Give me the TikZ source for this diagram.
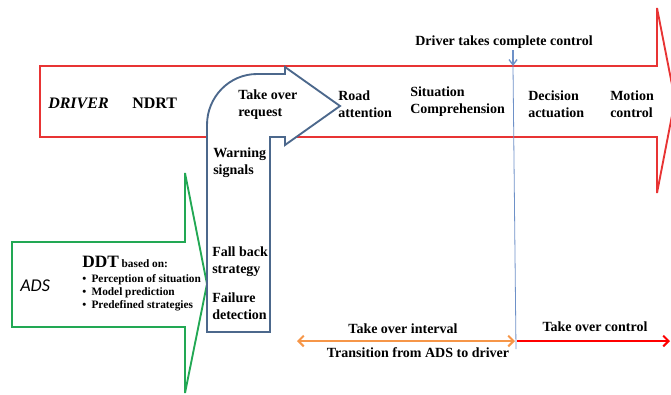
\documentclass[tikz,border=0pt]{standalone}
\usepackage{fontspec}
\setmainfont{Liberation Serif}
\newfontfamily\adsfont{Carlito}
\usetikzlibrary{arrows.meta, positioning}
\definecolor{drvred}{RGB}{232, 52, 52}
\definecolor{tkblue}{RGB}{76, 104, 140}
\definecolor{adsgreen}{RGB}{34, 168, 84}
\definecolor{ivorange}{RGB}{246, 150, 72}
\definecolor{ctrlblue}{RGB}{110, 145, 200}

\begin{document}
\begin{tikzpicture}[x=0.75pt, y=-0.75pt,
  stage/.style={anchor=west, inner sep=0pt, align=left, font=\bfseries\fontsize{10.5}{12.8}\selectfont},
  bigarrow/.style={line width=1.4pt, line join=miter},
  label/.style={inner sep=0pt, font=\bfseries\fontsize{10.5}{12}\selectfont}]
  \useasboundingbox (0,0) rectangle (671,394);

  % driver arrow
  \draw[bigarrow, drvred] (40,66) -- (657,66) -- (657,8) -- (675,100) -- (657,193) -- (657,137) -- (40,137) -- cycle;
  % ADS arrow
  \draw[bigarrow, adsgreen] (12,242) -- (185,242) -- (185,173) -- (207,284) -- (185,393) -- (185,327) -- (12,327) -- cycle;
  % take over U-turn arrow
  \draw[bigarrow, tkblue, fill=white] (207,332) -- (207,125) arc[start angle=180, end angle=270, x radius=50, y radius=51]
    -- (285,74) -- (285,67) -- (340,106) -- (285,145) -- (285,137) -- (270,137) -- (270,332) -- cycle;

  % texts in the driver arrow
  \node[stage, font=\bfseries\itshape\fontsize{12}{12}\selectfont] (driver) at (48,103) {DRIVER};
  \node[stage, font=\bfseries\fontsize{12}{12}\selectfont] (ndrt) at (132,103) {NDRT};
  \node[stage] (tor) at (238,105) {Take over\\request};
  \node[stage] (road) at (338,104) {Road\\attention};
  \node[stage] (sitcomp) at (410,102) {Situation\\Comprehension};
  \node[stage] (decision) at (528,104) {Decision\\actuation};
  \node[stage] (motion) at (610,104) {Motion\\control};

  % texts in the shaft
  \node[stage] (warn) at (213,163) {Warning\\signals};
  \node[stage] (fallback) at (212,262) {Fall back\\strategy};
  \node[stage] (failure) at (212,306) {Failure\\detection};

  % ADS
  \node[anchor=west, inner sep=0pt, font=\adsfont\itshape\fontsize{13.5}{14}\selectfont] (ads) at (20,286) {ADS};
  \node[anchor=north west, inner sep=0pt, align=left, font=\bfseries\fontsize{8.5}{10}\selectfont] (ddt) at (82,256)
    {{\fontsize{13}{13}\selectfont DDT} based on:\\[1pt]
     \textbullet\hspace{4pt}Perception of situation\\
     \textbullet\hspace{4pt}Model prediction\\
     \textbullet\hspace{4pt}Predefined strategies};

  % complete control marker
  \node[label] (dtc) at (504,42) {Driver takes complete control};
  \coordinate (ctrl-a) at (513,50);
  \coordinate (ctrl-b) at (513,66);
  \coordinate (ctrl-c) at (516,349);
  \draw[ctrlblue, line width=1pt, -{Straight Barb[length=4pt, width=6pt]}] (ctrl-a) -- (ctrl-b);
  \draw[ctrlblue, line width=0.6pt] (ctrl-b) -- (ctrl-c);

  % take over interval
  \coordinate (tiv-l) at (297,341);
  \coordinate (tiv-r) at (515,341);
  \draw[ivorange, line width=1.5pt, {Straight Barb[length=4pt, width=8pt]}-{Straight Barb[length=4pt, width=8pt]}] (tiv-l) -- (tiv-r);
  \node[label] (tiv) at (403,329) {Take over interval};
  \node[label] (trans) at (418,353) {Transition from ADS to driver};

  % take over control
  \coordinate (toc-l) at (517,341);
  \coordinate (toc-r) at (670,341);
  \draw[red, line width=1.5pt, -{Straight Barb[length=4pt, width=8pt]}] (toc-l) -- (toc-r);
  \node[label] (toc) at (595,327) {Take over control};
\end{tikzpicture}
\end{document}
